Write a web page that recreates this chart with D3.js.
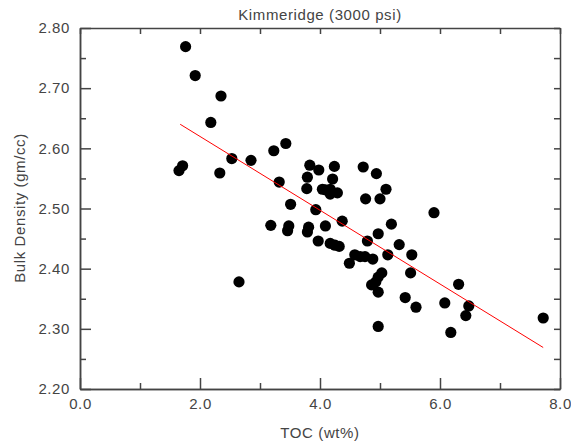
<!DOCTYPE html>
<html>
<head>
<meta charset="utf-8">
<script src="https://cdn.jsdelivr.net/npm/d3@7"></script>
<style>
  body { margin: 0; background: #fff; }
  text { font-family: "Liberation Sans", Arial, sans-serif; fill: #444; letter-spacing: 0.6px; }
</style>
</head>
<body>
<div id="viz"></div>
<script>
// TOC (wt%) vs bulk density (gm/cc)
var toc = [1.76, 1.92, 2.18, 2.35, 1.71, 1.65, 2.53, 2.85, 2.33, 3.43,
           3.23, 3.32, 3.83, 3.98, 4.24, 3.79, 4.21, 3.78, 4.04, 4.09,
           4.17, 4.17, 4.29, 3.51, 3.93, 4.37, 3.18, 3.48, 3.46, 3.81,
           3.79, 4.09, 3.97, 4.17, 4.25, 4.32, 4.72, 4.94, 5.10, 4.76,
           5.00, 5.90, 5.19, 4.97, 4.79, 5.32, 2.65, 5.13, 5.53, 4.58,
           4.67, 4.75, 4.88, 4.49, 5.03, 4.97, 4.93, 4.86, 4.97, 5.51,
           5.42, 5.60, 4.97, 6.31, 6.08, 6.48, 6.43, 6.18, 7.72];
var density = [2.769, 2.721, 2.643, 2.687, 2.571, 2.563, 2.583, 2.580, 2.559, 2.608,
               2.596, 2.544, 2.572, 2.564, 2.570, 2.552, 2.549, 2.533, 2.532, 2.531,
               2.532, 2.524, 2.526, 2.507, 2.498, 2.479, 2.472, 2.471, 2.463, 2.469,
               2.461, 2.471, 2.446, 2.442, 2.439, 2.437, 2.569, 2.558, 2.532, 2.516,
               2.516, 2.493, 2.474, 2.458, 2.446, 2.440, 2.378, 2.423, 2.423, 2.423,
               2.420, 2.420, 2.416, 2.409, 2.393, 2.386, 2.378, 2.373, 2.361, 2.393,
               2.352, 2.336, 2.304, 2.374, 2.343, 2.338, 2.322, 2.294, 2.318];

// fitted line end points
var fitX = [1.67, 7.72];
var fitY = [2.640, 2.269];

var xMajor = [0, 2, 4, 6, 8];
var xMinor = [1, 3, 5, 7];
var yMajor = [2.2, 2.3, 2.4, 2.5, 2.6, 2.7, 2.8];
var yMinor = [2.25, 2.35, 2.45, 2.55, 2.65, 2.75];

var width = 571,
    height = 442;

var x = d3.scaleLinear().domain([0, 8]).range([80, 560]);
var y = d3.scaleLinear().domain([2.2, 2.8]).range([389, 28]);

var svg = d3.select("#viz").append("svg")
    .attr("width", width)
    .attr("height", height);

function styleAxis(g) {
  g.selectAll("path, line").attr("stroke", "#444").attr("stroke-width", 1.5);
  g.selectAll("text").style("font-size", "15px").attr("fill", "#444");
}

// bottom
svg.append("g")
    .attr("transform", "translate(0,389)")
    .call(d3.axisBottom(x).tickValues(xMajor).tickSize(-11).tickSizeOuter(0)
      .tickPadding(9).tickFormat(d3.format(".1f")))
    .call(styleAxis);
svg.append("g")
    .attr("transform", "translate(0,389)")
    .call(d3.axisBottom(x).tickValues(xMinor).tickSize(-6).tickSizeOuter(0).tickFormat(""))
    .call(styleAxis);

// left
svg.append("g")
    .attr("transform", "translate(80,0)")
    .call(d3.axisLeft(y).tickValues(yMajor).tickSize(-11).tickSizeOuter(0)
      .tickPadding(10).tickFormat(d3.format(".2f")))
    .call(styleAxis);
svg.append("g")
    .attr("transform", "translate(80,0)")
    .call(d3.axisLeft(y).tickValues(yMinor).tickSize(-6).tickSizeOuter(0).tickFormat(""))
    .call(styleAxis);

// top and right
svg.append("g")
    .attr("transform", "translate(0,28)")
    .call(d3.axisTop(x).tickValues(xMajor.concat(xMinor)).tickSize(-6).tickSizeOuter(0).tickFormat(""))
    .call(styleAxis);
svg.append("g")
    .attr("transform", "translate(560,0)")
    .call(d3.axisRight(y).tickValues(yMajor.concat(yMinor)).tickSize(-6).tickSizeOuter(0).tickFormat(""))
    .call(styleAxis);

// points
svg.append("g").selectAll("circle")
    .data(d3.range(toc.length))
  .enter().append("circle")
    .attr("cx", function(i) { return x(toc[i]); })
    .attr("cy", function(i) { return y(density[i]); })
    .attr("r", 5.6)
    .attr("fill", "#000");

// fit line
svg.append("path")
    .datum(d3.range(fitX.length))
    .attr("d", d3.line()
      .x(function(i) { return x(fitX[i]); })
      .y(function(i) { return y(fitY[i]); }))
    .attr("stroke", "red")
    .attr("stroke-width", 1)
    .attr("fill", "none");

// titles
svg.append("text")
    .attr("x", 320).attr("y", 20)
    .attr("text-anchor", "middle")
    .style("font-size", "15px")
    .text("Kimmeridge (3000 psi)");

svg.append("text")
    .attr("x", 320).attr("y", 438)
    .attr("text-anchor", "middle")
    .style("font-size", "15px")
    .text("TOC (wt%)");

svg.append("text")
    .attr("transform", "translate(25,208) rotate(-90)")
    .attr("text-anchor", "middle")
    .style("font-size", "15px")
    .text("Bulk Density (gm/cc)");
</script>
</body>
</html>
